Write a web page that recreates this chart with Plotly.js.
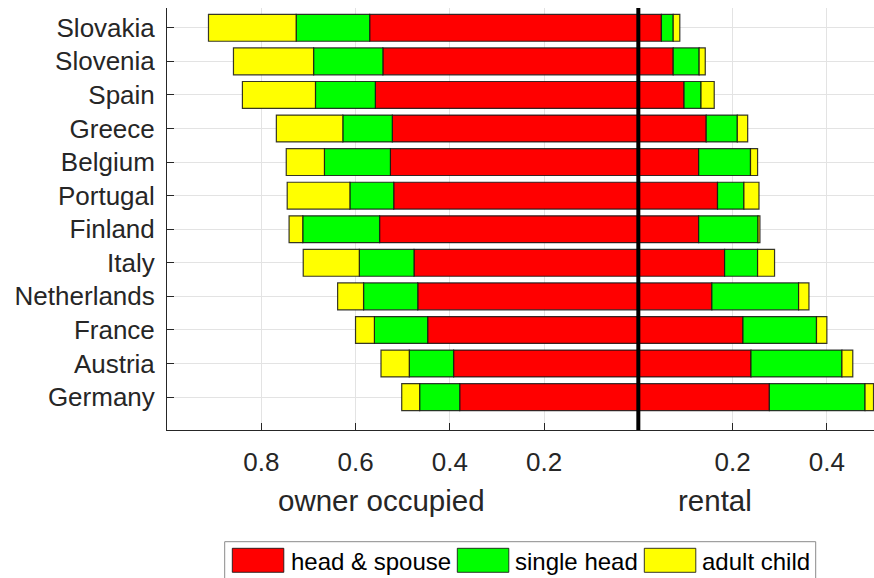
<!DOCTYPE html>
<html>
<head>
<meta charset="utf-8">
<script src="https://cdn.plot.ly/plotly-3.0.1.min.js"></script>
<style>
  html, body { margin: 0; padding: 0; background: #fff; }
  #chart { width: 874px; height: 578px; }
</style>
</head>
<body>
<div id="chart"></div>
<script>
// Household composition by tenure, shares of households (top to bottom)
const countries = ['Slovakia', 'Slovenia', 'Spain', 'Greece', 'Belgium', 'Portugal',
                   'Finland', 'Italy', 'Netherlands', 'France', 'Austria', 'Germany'];

// Owner-occupied
const ownHeadSpouse = [0.570, 0.542, 0.558, 0.522, 0.526, 0.519, 0.549, 0.476, 0.468, 0.447, 0.392, 0.379];
const ownSingleHead = [0.156, 0.147, 0.127, 0.105, 0.140, 0.093, 0.163, 0.116, 0.115, 0.113, 0.094, 0.085];
const ownAdultChild = [0.186, 0.170, 0.155, 0.141, 0.081, 0.133, 0.029, 0.119, 0.055, 0.040, 0.060, 0.038];

// Rental
const rentHeadSpouse = [0.049, 0.074, 0.097, 0.144, 0.128, 0.168, 0.128, 0.183, 0.156, 0.222, 0.239, 0.278];
const rentSingleHead = [0.025, 0.055, 0.036, 0.066, 0.110, 0.056, 0.126, 0.070, 0.184, 0.156, 0.193, 0.203];
const rentAdultChild = [0.014, 0.013, 0.028, 0.022, 0.015, 0.032, 0.004, 0.036, 0.022, 0.022, 0.023, 0.018];

const groupNames = ['head & spouse', 'single head', 'adult child'];
const groupColors = ['#ff0000', '#00ff00', '#ffff00'];

const xTickVals = [-0.8, -0.6, -0.4, -0.2, 0.2, 0.4];
const xTickText = ['0.8', '0.6', '0.4', '0.2', '0.2', '0.4'];

const inkColor = '#262626';
const gridColor = '#e3e3e3';
const fontFamily = 'Liberation Sans, Arial, sans-serif';

function barTrace(values, idx, negate) {
  return {
    type: 'bar',
    orientation: 'h',
    y: countries,
    x: values.map(v => negate ? -v : v),
    customdata: values,
    name: groupNames[idx],
    showlegend: false,
    marker: { color: groupColors[idx], line: { color: 'rgba(20,20,20,0.85)', width: 1.2 } },
    hovertemplate: '%{y}: %{customdata:.3f}<extra>' + groupNames[idx] + '</extra>'
  };
}

// Owner shares stack leftwards from zero, rental shares rightwards
const traces = [
  barTrace(ownHeadSpouse, 0, true),
  barTrace(ownSingleHead, 1, true),
  barTrace(ownAdultChild, 2, true),
  barTrace(rentHeadSpouse, 0, false),
  barTrace(rentSingleHead, 1, false),
  barTrace(rentAdultChild, 2, false)
];

// Plot-area geometry, used to place the hand-built legend in paper units
const W = 874, H = 578;
const M = { l: 167, r: 0, t: 8, b: 148 };
const pw = W - M.l - M.r, ph = H - M.t - M.b;
const px = x => (x - M.l) / pw;
const py = y => (H - M.b - y) / ph;

const shapes = [
  // tenure divider at zero
  { type: 'line', xref: 'x', yref: 'paper', x0: 0, x1: 0, y0: 0, y1: 1,
    line: { color: '#000', width: 4 }, layer: 'above' },
  // legend frame
  { type: 'rect', xref: 'paper', yref: 'paper',
    x0: px(224.7), x1: px(815.7), y0: py(541.7), y1: py(590),
    line: { color: '#8a8a8a', width: 1 }, fillcolor: '#fff' }
];

const annotations = [
  { text: 'owner occupied', xref: 'paper', yref: 'paper', x: px(381), y: py(500),
    xanchor: 'center', yanchor: 'middle', showarrow: false,
    font: { family: fontFamily, size: 29.5, color: inkColor } },
  { text: 'rental', xref: 'paper', yref: 'paper', x: px(714.7), y: py(500),
    xanchor: 'center', yanchor: 'middle', showarrow: false,
    font: { family: fontFamily, size: 29.5, color: inkColor } }
];

// Legend entries: swatch + label
const swatchX = [232.3, 457.3, 644.3];
const labelX = [289, 512.5, 700];
groupNames.forEach((name, i) => {
  shapes.push({ type: 'rect', xref: 'paper', yref: 'paper',
    x0: px(swatchX[i]), x1: px(swatchX[i] + 51.5), y0: py(548.3), y1: py(572.3),
    fillcolor: groupColors[i], line: { color: 'rgba(20,20,20,0.85)', width: 1 } });
  annotations.push({ text: name, xref: 'paper', yref: 'paper',
    x: px(labelX[i]), y: py(561), xanchor: 'left', yanchor: 'middle', showarrow: false,
    font: { family: fontFamily, size: 24, color: '#000' } });
});

const layout = {
  width: W, height: H,
  margin: M,
  barmode: 'relative',
  bargap: 0.2,
  paper_bgcolor: '#fff',
  plot_bgcolor: '#fff',
  showlegend: false,
  font: { family: fontFamily, color: inkColor },
  xaxis: {
    range: [-1, 0.5],
    tickvals: xTickVals,
    ticktext: xTickText,
    ticks: 'inside', ticklen: 7, tickcolor: inkColor, tickwidth: 1,
    showline: true, linecolor: inkColor, linewidth: 1,
    showgrid: true, gridcolor: gridColor, gridwidth: 1,
    zeroline: false,
    tickfont: { size: 26, color: inkColor },
    ticklabelstandoff: 9
  },
  yaxis: {
    type: 'category',
    categoryorder: 'array',
    categoryarray: countries.slice().reverse(),
    range: [-0.98, 11.59],
    ticks: 'inside', ticklen: 7, tickcolor: inkColor, tickwidth: 1,
    showline: true, linecolor: inkColor, linewidth: 1,
    showgrid: true, gridcolor: gridColor, gridwidth: 1,
    zeroline: false,
    tickfont: { size: 26, color: inkColor },
    ticklabelstandoff: 6
  },
  shapes: shapes,
  annotations: annotations
};

Plotly.newPlot('chart', traces, layout, { displayModeBar: false, staticPlot: true });
</script>
</body>
</html>
